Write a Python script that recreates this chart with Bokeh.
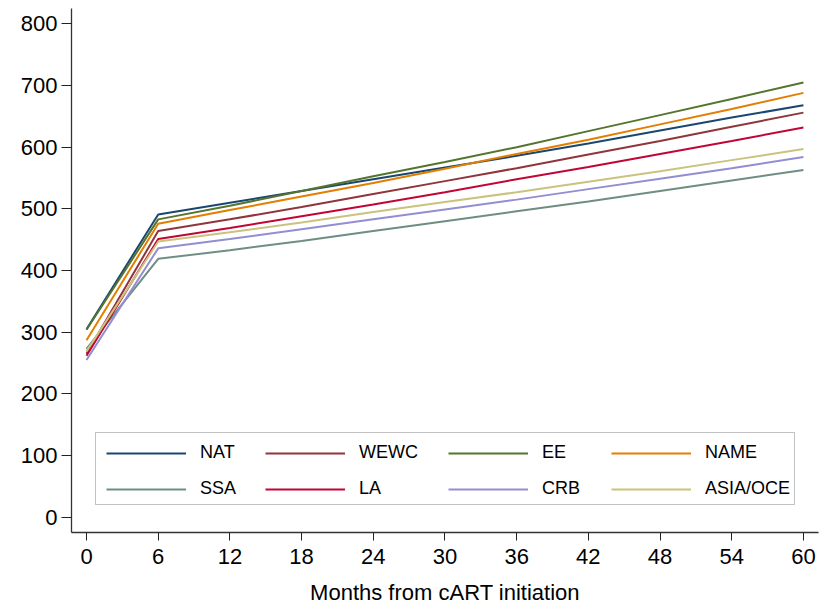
from bokeh.plotting import figure
from bokeh.models import Range1d, Legend, LegendItem, FixedTicker, BoxAnnotation
from bokeh.embed import file_html
from bokeh.resources import INLINE

months = [0, 6, 12, 18, 24, 30, 36, 42, 48, 54, 60]
nat = [305, 491, 510, 529, 548, 567, 586, 606, 627, 648, 668]
wewc = [265, 464, 483, 503, 524, 545, 566, 588, 610, 633, 656]
ee = [304, 483, 505, 529, 553, 576, 600, 626, 652, 678, 705]
name = [287, 476, 498, 520, 542, 565, 589, 612, 637, 662, 688]
ssa = [273, 419, 433, 448, 464, 480, 496, 512, 529, 546, 563]
la = [262, 451, 469, 488, 507, 527, 548, 568, 589, 610, 632]
crb = [255, 436, 451, 467, 483, 499, 515, 532, 549, 566, 584]
asia = [269, 447, 462, 478, 495, 511, 527, 544, 561, 579, 597]

series_names = ["NAT", "WEWC", "EE", "NAME", "SSA", "LA", "CRB", "ASIA/OCE"]
series_vals = [nat, wewc, ee, name, ssa, la, crb, asia]
colors = ["#1a476f", "#90353b", "#55752f", "#e37e00",
          "#6e8e84", "#c10534", "#938dd2", "#cac27e"]

x_ticks = list(range(0, 61, 6))
y_ticks = list(range(0, 801, 100))

FONT = "Liberation Sans"

p = figure(width=832, height=607, output_backend="svg", toolbar_location=None,
           x_range=Range1d(-1.255, 61.26), y_range=Range1d(-24.6, 824.8),
           min_border_left=71, min_border_right=14, min_border_top=8,
           min_border_bottom=75)
p.outline_line_color = None
p.xgrid.visible = False
p.ygrid.visible = False
p.background_fill_color = "white"
p.border_fill_color = "white"

renderers = []
for nm, vals, c in zip(series_names, series_vals, colors):
    r = p.line(months, vals, line_color=c, line_width=2)
    renderers.append(r)

for ax in (p.xaxis[0], p.yaxis[0]):
    ax.axis_line_color = "#333333"
    ax.axis_line_width = 1.3
    ax.major_tick_line_color = "#222222"
    ax.major_tick_line_width = 1
    ax.major_tick_in = 0
    ax.major_tick_out = 8
    ax.minor_tick_line_color = None
    ax.major_label_text_font = FONT
    ax.major_label_text_font_size = "22px"
    ax.major_label_text_color = "black"

p.xaxis.ticker = FixedTicker(ticks=x_ticks)
p.yaxis.ticker = FixedTicker(ticks=y_ticks)
p.yaxis.major_tick_out = 10
p.yaxis.major_label_standoff = 4
p.xaxis.major_label_standoff = 8
p.xaxis.axis_label = "Months from cART initiation"
p.xaxis.axis_label_text_font = FONT
p.xaxis.axis_label_text_font_size = "22px"
p.xaxis.axis_label_text_font_style = "normal"
p.xaxis.axis_label_text_color = "black"
p.xaxis.axis_label_text_line_height = 1.0
p.xaxis.axis_label_standoff = 13

# legend frame (screen units relative to the plot frame)
box = BoxAnnotation(left=24, right=723, top=100, bottom=28,
                    left_units="screen", right_units="screen",
                    top_units="screen", bottom_units="screen",
                    fill_color="white", fill_alpha=1,
                    line_color="#333333", line_width=1, level="overlay")
p.add_layout(box)

col_x = [35, 194, 377, 540]
for ci in range(4):
    idx = [ci, ci + 4]
    items = [LegendItem(label=series_names[i], renderers=[renderers[i]]) for i in idx]
    lg = Legend(items=items, orientation="vertical", location=(col_x[ci], 33))
    lg.label_text_font = FONT
    lg.label_text_font_size = "18px"
    lg.label_text_color = "black"
    lg.glyph_width = 80
    lg.glyph_height = 20
    lg.label_height = 20
    lg.label_standoff = 14
    lg.spacing = 15
    lg.padding = 0
    lg.margin = 0
    lg.border_line_color = None
    lg.background_fill_alpha = 0
    p.add_layout(lg, "center")

open("out.html", "w").write(file_html(p, INLINE))
